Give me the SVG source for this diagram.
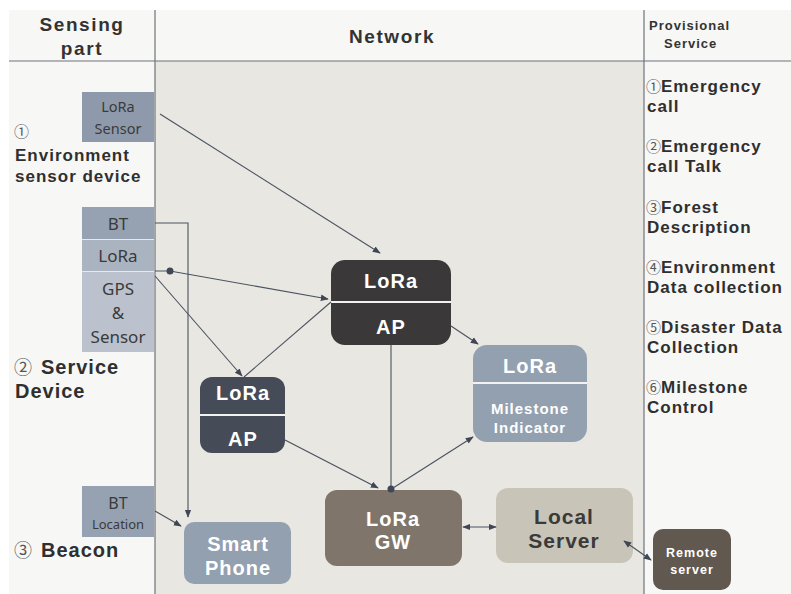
<svg xmlns="http://www.w3.org/2000/svg" width="791" height="594" viewBox="0 0 791 594">
  <defs>
    <marker id="arr" viewBox="0 0 10 10" refX="9" refY="5" markerWidth="8" markerHeight="8" markerUnits="userSpaceOnUse" orient="auto-start-reverse">
      <path d="M0,1 L10,5 L0,9 Z" fill="#3f4755"/>
    </marker>
    <style>
      .hdr{font-family:"Liberation Sans","Noto Sans CJK KR",sans-serif;font-weight:bold;fill:#333;letter-spacing:1.6px}
      .lbl{font-family:"Liberation Sans","Noto Sans CJK KR",sans-serif;font-weight:bold;fill:#2f2f2f;letter-spacing:1px}
      .num{font-family:"Noto Sans CJK KR","DejaVu Sans",sans-serif;font-weight:normal;fill:#555;letter-spacing:0}
      .svc{font-family:"Liberation Sans","Noto Sans CJK KR",sans-serif;font-weight:bold;font-size:17px;fill:#2f2f2f;letter-spacing:1px}
      .dev{font-family:"Noto Sans","Open Sans",sans-serif;fill:#3a3a3a;text-anchor:middle}
      .nd{font-family:"Liberation Sans","Noto Sans CJK KR",sans-serif;font-weight:bold;fill:#fff;text-anchor:middle;letter-spacing:1px}
      .conn{stroke:#4a5260;stroke-width:1.1;fill:none}
      .sep{stroke:#f2f2f2;stroke-width:2}
    </style>
  </defs>

  <!-- page and column backgrounds -->
  <rect x="0" y="0" width="791" height="594" fill="#ffffff"/>
  <rect x="9" y="10" width="782" height="584" fill="#f7f7f5"/>
  <rect x="155" y="61" width="489" height="533" fill="#e8e7e2"/>
  <line x1="9" y1="61" x2="791" y2="61" stroke="#6e737b" stroke-width="1.2"/>
  <line x1="155" y1="10" x2="155" y2="594" stroke="#6e737b" stroke-width="1.2"/>
  <line x1="644" y1="10" x2="644" y2="594" stroke="#6e737b" stroke-width="1.2"/>

  <!-- column headers -->
  <g id="headers">
    <text class="hdr" x="82" y="31" font-size="19" text-anchor="middle">Sensing</text>
    <text class="hdr" x="82" y="55" font-size="19" text-anchor="middle">part</text>
    <text class="hdr" x="392" y="43" font-size="19" text-anchor="middle">Network</text>
    <text class="hdr" x="649" y="30" font-size="13" style="letter-spacing:1px">Provisional</text>
    <text class="hdr" x="664" y="48" font-size="13" style="letter-spacing:1px">Service</text>
  </g>

  <!-- sensing part -->
  <g id="env-sensor">
    <rect x="82" y="92" width="72" height="50" fill="#8e9aab"/>
    <text class="dev" x="118" y="112" font-size="14.5">LoRa</text>
    <text class="dev" x="118" y="134" font-size="14.5">Sensor</text>
    <text class="num" x="14" y="137" font-size="15">①</text>
    <text class="lbl" x="15" y="161" font-size="17">Environment</text>
    <text class="lbl" x="15" y="182" font-size="17">sensor device</text>
  </g>

  <g id="service-device">
    <rect x="82" y="207" width="72" height="32" fill="#96a2b2"/>
    <rect x="82" y="240" width="72" height="31" fill="#aab3c0"/>
    <rect x="82" y="272" width="72" height="80" fill="#bbc2cd"/>
    <line x1="82" y1="239.5" x2="154" y2="239.5" stroke="#e6e9ee" stroke-width="1"/>
    <line x1="82" y1="271.5" x2="154" y2="271.5" stroke="#e6e9ee" stroke-width="1"/>
    <text class="dev" x="118" y="230" font-size="17">BT</text>
    <text class="dev" x="118" y="262" font-size="17">LoRa</text>
    <text class="dev" x="118" y="295" font-size="17">GPS</text>
    <text class="dev" x="118" y="319" font-size="17">&amp;</text>
    <text class="dev" x="118" y="343" font-size="17">Sensor</text>
    <text class="num" x="14" y="374" font-size="18">②</text>
    <text class="lbl" x="41" y="374" font-size="20">Service</text>
    <text class="lbl" x="15" y="398" font-size="20">Device</text>
  </g>

  <g id="beacon">
    <rect x="82" y="486" width="72" height="51" fill="#96a2b2"/>
    <text class="dev" x="118" y="509" font-size="16">BT</text>
    <text class="dev" x="118" y="529" font-size="13">Location</text>
    <text class="num" x="14" y="557" font-size="18">③</text>
    <text class="lbl" x="41" y="557" font-size="20">Beacon</text>
  </g>

  <!-- network nodes -->
  <g id="lora-ap-main">
    <rect x="331" y="260" width="120" height="85" rx="14" fill="#3a3838"/>
    <line class="sep" x1="331" y1="302" x2="451" y2="302"/>
    <text class="nd" x="391" y="288" font-size="20">LoRa</text>
    <text class="nd" x="391" y="334" font-size="20">AP</text>
  </g>

  <g id="lora-ap-sub">
    <rect x="200" y="377" width="85" height="76" rx="12" fill="#454b57"/>
    <line class="sep" x1="200" y1="415" x2="285" y2="415"/>
    <text class="nd" x="243" y="400" font-size="20">LoRa</text>
    <text class="nd" x="243" y="446" font-size="20">AP</text>
  </g>

  <g id="milestone">
    <rect x="473" y="345" width="114" height="97" rx="14" fill="#93a0b0"/>
    <line class="sep" x1="473" y1="383" x2="587" y2="383"/>
    <text class="nd" x="530" y="373" font-size="20">LoRa</text>
    <text class="nd" x="530" y="414" font-size="15">Milestone</text>
    <text class="nd" x="530" y="433" font-size="15">Indicator</text>
  </g>

  <g id="lora-gw">
    <rect x="325" y="490" width="137" height="76" rx="12" fill="#80756a"/>
    <text class="nd" x="393" y="526" font-size="20">LoRa</text>
    <text class="nd" x="393" y="549" font-size="20">GW</text>
  </g>

  <g id="local-server">
    <rect x="496" y="488" width="137" height="75" rx="12" fill="#c9c4b8"/>
    <text class="nd" x="564" y="524" font-size="21" style="fill:#3a3a3a">Local</text>
    <text class="nd" x="564" y="548" font-size="21" style="fill:#3a3a3a">Server</text>
  </g>

  <g id="smart-phone">
    <rect x="184" y="522" width="107" height="62" rx="10" fill="#93a0b0"/>
    <text class="nd" x="238" y="551" font-size="20">Smart</text>
    <text class="nd" x="238" y="575" font-size="20">Phone</text>
  </g>

  <g id="remote-server">
    <rect x="653" y="529" width="78" height="61" rx="10" fill="#615850"/>
    <text class="nd" x="692" y="557" font-size="12.5">Remote</text>
    <text class="nd" x="692" y="574" font-size="12.5">server</text>
  </g>

  <!-- provisional services -->
  <g id="services">
    <text class="svc" x="646" y="92"><tspan class="num" font-size="15">①</tspan>Emergency</text>
    <text class="svc" x="647" y="112">call</text>
    <text class="svc" x="646" y="152"><tspan class="num" font-size="15">②</tspan>Emergency</text>
    <text class="svc" x="647" y="172">call Talk</text>
    <text class="svc" x="646" y="213"><tspan class="num" font-size="15">③</tspan>Forest</text>
    <text class="svc" x="647" y="233">Description</text>
    <text class="svc" x="646" y="273"><tspan class="num" font-size="15">④</tspan>Environment</text>
    <text class="svc" x="647" y="293">Data collection</text>
    <text class="svc" x="646" y="333"><tspan class="num" font-size="15">⑤</tspan>Disaster Data</text>
    <text class="svc" x="647" y="353">Collection</text>
    <text class="svc" x="646" y="393"><tspan class="num" font-size="15">⑥</tspan>Milestone</text>
    <text class="svc" x="647" y="413">Control</text>
  </g>

  <!-- connectors -->
  <g id="connectors">
    <line class="conn" x1="160" y1="114" x2="380" y2="253" marker-end="url(#arr)"/>
    <polyline class="conn" points="155,223 188,223 188,517" marker-end="url(#arr)" stroke="#6a707a"/>
    <polyline class="conn" points="155,271 170,271 328,299" marker-end="url(#arr)"/>
    <circle cx="170" cy="271" r="3.5" fill="#3f4755"/>
    <line class="conn" x1="155" y1="276" x2="242" y2="376" marker-end="url(#arr)"/>
    <line class="conn" x1="244" y1="377" x2="331" y2="302" stroke="#6a707a"/>
    <line class="conn" x1="451" y1="326" x2="478" y2="344" marker-end="url(#arr)"/>
    <line class="conn" x1="391" y1="345" x2="391" y2="489" stroke="#6a707a"/>
    <circle cx="391" cy="489" r="3.5" fill="#3f4755"/>
    <line class="conn" x1="285" y1="440" x2="378" y2="488" marker-end="url(#arr)"/>
    <line class="conn" x1="393" y1="488" x2="473" y2="437" marker-end="url(#arr)"/>
    <line class="conn" x1="463" y1="527" x2="496" y2="527" marker-start="url(#arr)" marker-end="url(#arr)"/>
    <line class="conn" x1="624" y1="541" x2="651" y2="560" marker-start="url(#arr)" marker-end="url(#arr)"/>
    <line class="conn" x1="155" y1="511" x2="181" y2="526" marker-end="url(#arr)"/>
  </g>
</svg>
